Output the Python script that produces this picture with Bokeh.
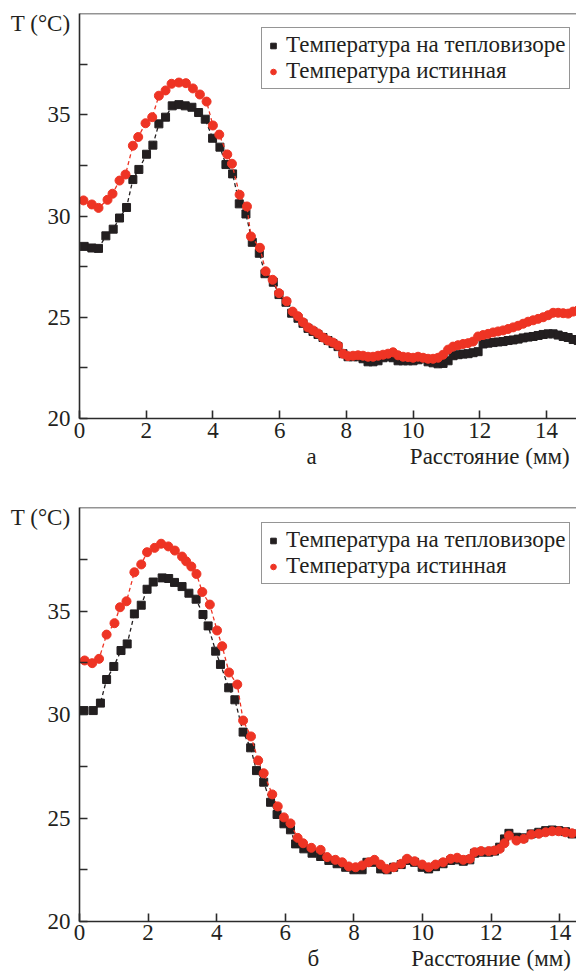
from bokeh.plotting import figure
from bokeh.models import FixedTicker, Legend, LegendItem, Span, Range1d, LinearAxis
from bokeh.layouts import column
from bokeh.embed import file_html
from bokeh.resources import INLINE

# ---------------- data: panel a ----------------
a_black_x = [0.14, 0.37, 0.57, 0.79, 1.01, 1.2, 1.41, 1.6, 1.78, 2.01, 2.2, 2.38, 2.58, 2.78, 2.98,
             3.17, 3.37, 3.57, 3.77, 3.99, 4.21, 4.39, 4.59, 4.79, 4.99, 5.18, 5.39, 5.56, 5.81,
             5.98, 6.19, 6.36,
             6.55, 6.7, 6.85, 7.0, 7.15, 7.3, 7.45, 7.6, 7.75, 7.9, 8.05, 8.2, 8.35, 8.5, 8.65,
             8.8, 8.95, 9.1, 9.25, 9.4, 9.55, 9.7, 9.85, 10.0, 10.15, 10.3, 10.45, 10.6, 10.75,
             10.9, 11.05, 11.2, 11.35, 11.5, 11.65, 11.8, 11.95, 12.1, 12.25, 12.4, 12.55, 12.7,
             12.85, 13.0, 13.15, 13.3, 13.45, 13.6, 13.75, 13.9, 14.05, 14.2, 14.35, 14.5, 14.65,
             14.8, 14.95]
a_black_y = [28.5, 28.42, 28.4, 29.02, 29.35, 29.9, 30.42, 31.8, 32.3, 33.05, 33.5, 34.55, 34.88,
             35.44, 35.5, 35.44, 35.37, 35.11, 34.78, 33.84, 33.4, 32.54, 32.08, 30.6, 30.1, 28.7,
             28.16, 27.15, 26.73, 26.12, 25.74, 25.2,
             24.95, 24.7, 24.45, 24.3, 24.15, 24.0, 23.85, 23.7, 23.55, 23.2, 23.05, 23.05, 23.05,
             22.95, 22.8, 22.8, 22.85, 23.0, 23.05, 23.0, 22.85, 22.85, 22.85, 22.85, 22.9, 22.95,
             22.8, 22.75, 22.7, 22.72, 22.85, 23.1, 23.15, 23.18, 23.2, 23.25, 23.3, 23.68, 23.72,
             23.75, 23.78, 23.8, 23.85, 23.88, 23.92, 23.98, 24.02, 24.05, 24.1, 24.15, 24.18,
             24.18, 24.12, 24.05, 24.0, 23.9, 23.85]

a_red_x = [0.12, 0.37, 0.57, 0.84, 0.99, 1.2, 1.38, 1.6, 1.76, 1.98, 2.18, 2.38, 2.58, 2.76, 2.98,
           3.19, 3.4, 3.61, 3.81, 4.0, 4.19, 4.43, 4.57, 4.8, 5.02, 5.14, 5.41, 5.58, 5.79, 5.98,
           6.21, 6.39,
           6.55, 6.7, 6.85, 7.0, 7.15, 7.3, 7.45, 7.6, 7.75, 7.9, 8.05, 8.2, 8.35, 8.5, 8.65,
           8.8, 8.95, 9.1, 9.25, 9.4, 9.55, 9.7, 9.85, 10.0, 10.15, 10.3, 10.45, 10.6, 10.75,
           10.9, 11.05, 11.2, 11.35, 11.5, 11.65, 11.8, 11.95, 12.1, 12.25, 12.4, 12.55, 12.7,
           12.85, 13.0, 13.15, 13.3, 13.45, 13.6, 13.75, 13.9, 14.05, 14.2, 14.35, 14.5, 14.65,
           14.8, 14.95]
a_red_y = [30.77, 30.57, 30.4, 30.8, 31.1, 31.75, 32.05, 33.47, 33.9, 34.58, 34.88, 35.94, 36.2,
           36.53, 36.59, 36.56, 36.3, 36.0, 35.65, 34.47, 34.02, 33.04, 32.58, 31.05, 30.47, 28.99,
           28.43, 27.27, 26.85, 26.19, 25.79, 25.28,
           25.05, 24.75, 24.5, 24.35, 24.2, 24.0, 23.85, 23.75, 23.6, 23.2, 23.08, 23.1, 23.12,
           23.1, 23.05, 23.05, 23.1, 23.15, 23.2, 23.27, 23.12, 23.05, 23.03, 23.0, 23.05, 23.0,
           22.95, 22.95, 23.0, 23.15, 23.4, 23.55, 23.62, 23.68, 23.72, 23.8, 24.05, 24.12, 24.18,
           24.25, 24.3, 24.35, 24.42, 24.5, 24.58, 24.68, 24.78, 24.85, 24.92, 25.0, 25.1, 25.22,
           25.22, 25.2, 25.18, 25.28, 25.35]

# ---------------- data: panel б ----------------
b_black_x = [0.13, 0.4, 0.61, 0.79, 1.0, 1.21, 1.39, 1.6, 1.8, 1.97, 2.15, 2.41, 2.6, 2.77, 2.99,
             3.19, 3.4, 3.6, 3.75, 3.97, 4.11, 4.35, 4.53, 4.77, 4.99, 5.16, 5.37, 5.57, 5.76,
             5.96, 6.15, 6.3, 6.54, 6.78, 7.03, 7.27, 7.51, 7.76, 8.0, 8.24, 8.38, 8.57, 8.78,
             8.97, 9.16, 9.38, 9.55, 9.77, 9.99, 10.18, 10.38, 10.6, 10.82, 11.01, 11.19, 11.38,
             11.52, 11.71, 11.93, 12.1, 12.25, 12.39, 12.52, 12.74, 12.95, 13.17, 13.39, 13.59,
             13.78, 13.97, 14.17, 14.36]
b_black_y = [30.19, 30.19, 30.55, 31.69, 32.32, 33.09, 33.41, 34.86, 35.28, 36.05, 36.4, 36.6,
             36.57, 36.38, 36.18, 35.86, 35.57, 34.83, 34.28, 33.06, 32.42, 31.29, 30.71, 29.15,
             28.39, 27.29, 26.73, 25.76, 25.17, 24.72, 24.43, 23.75, 23.51, 23.3, 23.14, 22.95,
             22.79, 22.62, 22.5, 22.5, 22.86, 22.86, 22.54, 22.5, 22.62, 22.75, 22.95, 22.86,
             22.62, 22.54, 22.65, 22.79, 22.95, 22.98, 22.91, 22.98, 23.3, 23.35, 23.35, 23.4,
             23.59, 23.99, 24.26, 24.07, 24.04, 24.23, 24.31, 24.39, 24.42, 24.39, 24.34, 24.23]

b_red_x = [0.15, 0.37, 0.57, 0.79, 1.02, 1.18, 1.37, 1.6, 1.8, 1.97, 2.19, 2.38, 2.59, 2.78, 2.99,
           3.11, 3.26, 3.41, 3.58, 3.8, 4.01, 4.16, 4.36, 4.6, 4.77, 5.0, 5.21, 5.37, 5.62, 5.78,
           5.96, 6.15, 6.36, 6.52, 6.76, 7.03, 7.22, 7.46, 7.66, 7.85, 8.05, 8.24, 8.43, 8.6,
           8.78, 8.95, 9.16, 9.38, 9.55, 9.77, 9.99, 10.18, 10.38, 10.6, 10.82, 11.01, 11.19,
           11.38, 11.52, 11.71, 11.93, 12.1, 12.25, 12.39, 12.52, 12.74, 12.95, 13.17, 13.39,
           13.59, 13.78, 13.97, 14.17, 14.36]
b_red_y = [32.61, 32.48, 32.69, 33.86, 34.41, 35.18, 35.47, 36.87, 37.25, 37.84, 38.05, 38.25,
           38.12, 37.92, 37.63, 37.4, 37.15, 36.79, 35.92, 35.31, 34.06, 33.3, 32.03, 31.45,
           29.71, 28.94, 27.78, 27.16, 26.14, 25.56, 25.03, 24.74, 24.04, 23.78, 23.56, 23.46,
           23.11, 22.98, 22.86, 22.66, 22.62, 22.71, 22.86, 22.98, 22.75, 22.54, 22.62, 22.79,
           23.03, 22.91, 22.75, 22.62, 22.75, 22.86, 23.03, 23.08, 22.98, 23.03, 23.35, 23.4,
           23.4, 23.43, 23.51, 23.78, 24.15, 23.91, 23.99, 24.2, 24.24, 24.31, 24.36, 24.36,
           24.31, 24.26]

y_major = [20, 25, 30, 35]
y_ticks_drawn = [20, 22.5, 25, 27.5, 30, 32.5, 35, 37.5]
x_major = [0, 2, 4, 6, 8, 10, 12, 14]

legend_labels = ["Температура на тепловизоре", "Температура истинная"]
x_title = "Расстояние (мм)"
y_title = "T (°C)"

BLACK = "#231f20"
RED = "#ee3424"
AXIS = "#2b2b2b"
TXT = "#231f20"
SERIF = "Liberation Serif"


def panel(bx, by, rx, ry, xmax, h, border_left, border_top, border_bottom,
          legend_loc, letter, letter_x, title_x, ytitle_y, row1_standoff, row2_standoff):
    p = figure(width=576, height=h, output_backend="svg", toolbar_location=None,
               x_range=Range1d(0, xmax), y_range=Range1d(20, 40),
               min_border_left=border_left, min_border_right=0,
               min_border_top=border_top, min_border_bottom=border_bottom)
    p.grid.visible = False
    p.outline_line_color = None

    for ax in (p.xaxis[0], p.yaxis[0]):
        ax.axis_line_color = AXIS
        ax.axis_line_width = 1.6
        ax.major_tick_line_color = AXIS
        ax.major_tick_line_width = 1.6
        ax.minor_tick_line_color = AXIS
        ax.minor_tick_line_width = 1.6
        ax.major_tick_out = 0
        ax.minor_tick_out = 0
        ax.major_label_text_font = SERIF
        ax.major_label_text_font_size = "23px"
        ax.major_label_text_color = TXT

    xa = p.xaxis[0]
    xa.ticker = FixedTicker(ticks=x_major, minor_ticks=[])
    xa.major_tick_in = 8
    xa.major_label_standoff = row1_standoff

    # y axis: visible ticks drawn as minor ticks; the axis title sits as a label at the top
    ya = p.yaxis[0]
    ya.ticker = FixedTicker(ticks=y_major + [ytitle_y], minor_ticks=y_ticks_drawn)
    ya.major_label_overrides = {ytitle_y: y_title}
    ya.major_tick_in = 0
    ya.major_tick_line_color = None
    ya.minor_tick_in = 8
    ya.major_label_standoff = 9

    # second row under the x axis: panel letter and axis title
    x2 = LinearAxis(ticker=FixedTicker(ticks=[letter_x, title_x], minor_ticks=[]),
                    major_label_overrides={letter_x: letter, title_x: x_title},
                    axis_line_color=None, major_tick_line_color=None,
                    minor_tick_line_color=None, major_tick_in=0, major_tick_out=0,
                    minor_tick_in=0, minor_tick_out=0,
                    major_label_standoff=row2_standoff,
                    major_label_text_font=SERIF, major_label_text_font_size="23px",
                    major_label_text_color=TXT)
    p.add_layout(x2, "below")

    p.add_layout(Span(location=40, dimension="width", line_color=AXIS, line_width=1.6))

    p.line(bx, by, line_color=BLACK, line_width=1.3, line_dash="4 3")
    sb = p.scatter(bx, by, marker="square", size=8, fill_color=BLACK, line_color=BLACK)
    p.line(rx, ry, line_color=RED, line_width=1.3, line_dash="4 3")
    sr = p.scatter(rx, ry, marker="circle", size=9, fill_color=RED, line_color=RED)

    leg = Legend(items=[LegendItem(label=legend_labels[0], renderers=[sb]),
                        LegendItem(label=legend_labels[1], renderers=[sr])],
                 location=legend_loc, orientation="vertical",
                 label_text_font=SERIF, label_text_font_size="23px",
                 label_text_color=TXT,
                 border_line_color=AXIS, border_line_width=1.2,
                 background_fill_alpha=1.0, padding=4, spacing=0,
                 glyph_width=14, glyph_height=25, label_height=25, label_standoff=6,
                 margin=0)
    p.add_layout(leg, "center")
    return p


p1 = panel(a_black_x, a_black_y, a_red_x, a_red_y, 14.9, 488, 77, 13, 70,
           (182, 329), "а", 6.96, 12.3, 39.5, 4, 3)
p2 = panel(b_black_x, b_black_y, b_red_x, b_red_y, 14.49, 488, 79, 19, 55,
           (182, 337), "б", 6.82, 12.0, 39.5, 3, 3)

layout = column(p1, p2, spacing=0)
open("out.html", "w").write(file_html(layout, INLINE))
